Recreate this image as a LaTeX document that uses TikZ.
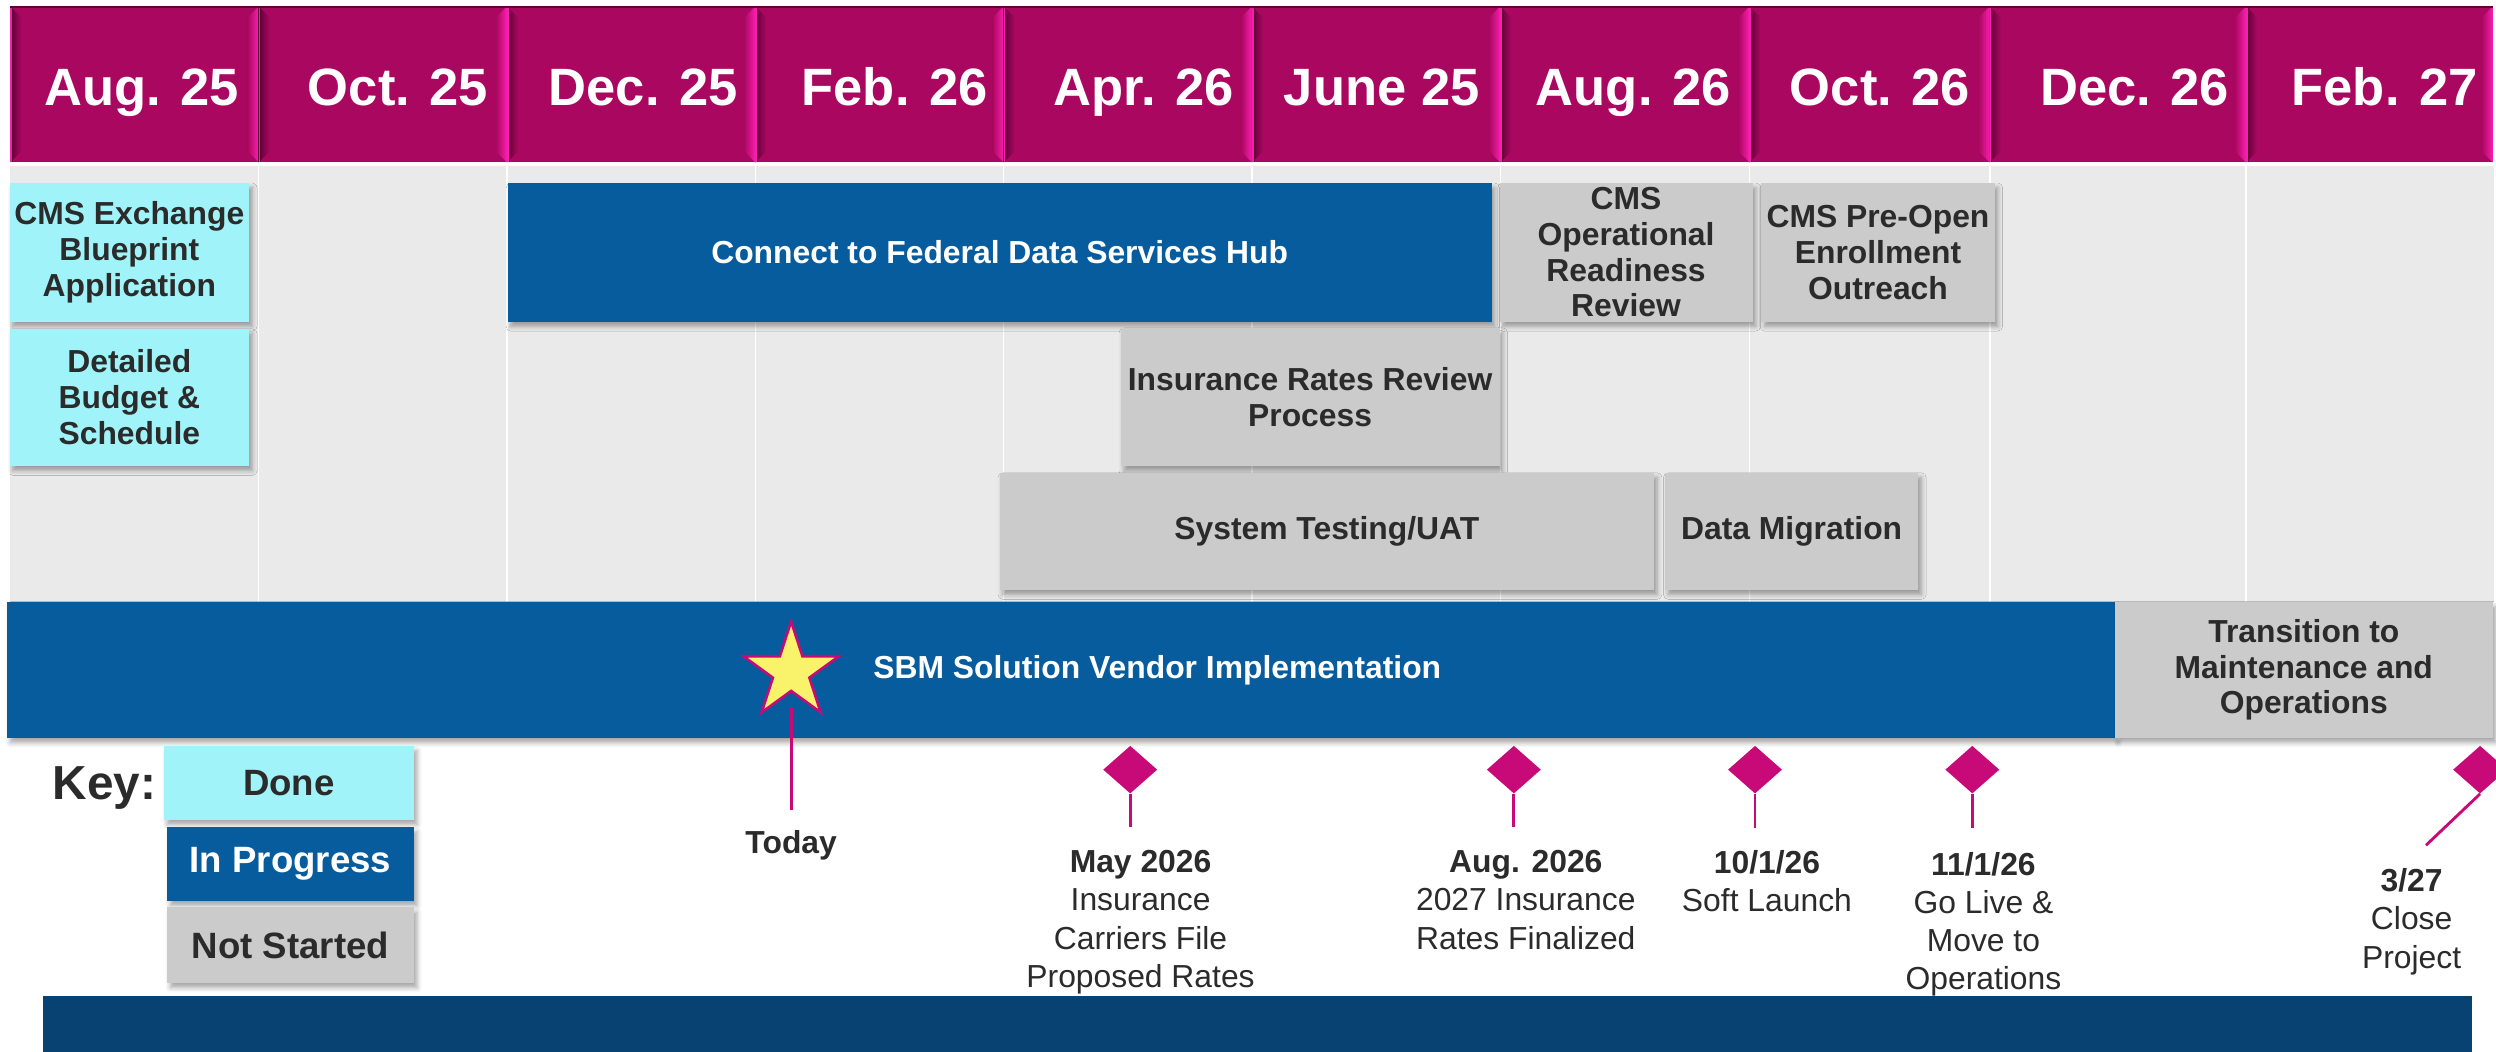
\documentclass[tikz,border=0pt]{standalone}
\usepackage{fontspec}
\setmainfont{Liberation Sans}
\usepackage{tikz}
\usetikzlibrary{
    positioning,
    shapes.geometric,
    shadows.blur
}
\definecolor{headMagenta}{RGB}{170, 8, 96}
\definecolor{headPink}{RGB}{250, 30, 175}
\definecolor{headDark}{RGB}{95, 0, 55}
\definecolor{gridGray}{RGB}{234, 234, 234}
\definecolor{doneCyan}{RGB}{160, 243, 248}
\definecolor{progBlue}{RGB}{7, 92, 158}
\definecolor{idleGray}{RGB}{203, 203, 203}
\definecolor{darkText}{RGB}{43, 43, 43}
\definecolor{mileMagenta}{RGB}{200, 10, 120}
\definecolor{starYellow}{RGB}{248, 243, 106}
\definecolor{footBlue}{RGB}{8, 66, 114}

\begin{document}
\begin{tikzpicture}[x=1pt, y=-1pt,
        task/.style={rectangle, inner sep=0pt, align=center,
            font=\bfseries\fontsize{20}{22.5}\selectfont,
            blur shadow={shadow xshift=2pt, shadow yshift=-3pt, shadow blur radius=3pt, shadow opacity=35}},
        taskDone/.style={task, fill=doneCyan, text=darkText},
        taskProg/.style={task, fill=progBlue, text=white},
        taskIdle/.style={task, fill=idleGray, text=darkText},
        keyBox/.style={task, font=\bfseries\fontsize{23}{26}\selectfont},
        headText/.style={anchor=base, inner sep=0pt, text=white, font=\bfseries\fontsize{33}{36}\selectfont},
        milestone/.style={diamond, minimum width=34pt, minimum height=30pt, inner sep=0pt, fill=mileMagenta},
        mline/.style={mileMagenta, line width=1.8pt},
        mtext/.style={anchor=north, inner sep=0pt, align=center, text=darkText, font=\fontsize{20}{24}\selectfont}]
        \useasboundingbox (0,0) rectangle (1568,660.3);

        % month header
        \foreach \a/\b/\c/\lab [count=\i] in {6.5/162.5/89/Aug. 25, 162.5/318.5/250/Oct. 25, 318.5/474.5/404/Dec. 25, 474.5/630.5/562/Feb. 26, 630.5/786.5/718.5/Apr. 26, 786.5/942.5/868/June 25, 942.5/1099/1026/Aug. 26, 1099/1250/1181/Oct. 26, 1250/1411/1341/Dec. 26, 1411/1566/1498/Feb. 27}{
            \fill[headMagenta] (\a,4) rectangle (\b,102);
            \shade[left color=headDark, right color=headMagenta] (\a,4) -- (\a+7,11) -- (\a+7,95) -- (\a,102) -- cycle;
            \shade[left color=headMagenta, right color=headPink] (\b,4) -- (\b-7,11) -- (\b-7,95) -- (\b,102) -- cycle;
            \draw[headPink, line width=1pt] (\a+0.5,4) -- (\a+0.5,102);
            \draw[headDark, line width=0.5pt] (\a+1.3,4) -- (\a+1.3,102);
            \node[headText] (head\i) at (\c,66) {\lab};
        }
        \draw[headDark, line width=0.8pt] (6.5,4.4) -- (1566,4.4);

        % grid area
        \fill[gridGray] (6,104) rectangle (1567,378);
        \foreach \x in {162.5, 318.5, 474.5, 630.5, 786.5, 942.5, 1099, 1250, 1411}
            \draw[white, line width=0.9pt] (\x,104) -- (\x,378);

        % tasks
        \node[taskDone, minimum width=150.5pt, minimum height=87pt] (blueprint) at (81.25,158.5) {CMS Exchange\\Blueprint\\Application};
        \node[taskDone, minimum width=150.5pt, minimum height=86pt] (budget) at (81.25,249.6) {Detailed\\Budget \&\\Schedule};
        \node[taskProg, minimum width=618pt, minimum height=87pt] (hub) at (628,158.5) {Connect to Federal Data Services Hub};
        \node[taskIdle, minimum width=159pt, minimum height=87pt] (readiness) at (1021.5,158.5) {CMS\\Operational\\Readiness\\Review};
        \node[taskIdle, minimum width=146.5pt, minimum height=87pt] (outreach) at (1179.75,158.5) {CMS Pre-Open\\Enrollment\\Outreach};
        \node[taskIdle, minimum width=238pt, minimum height=87pt] (rates) at (823,249.5) {Insurance Rates Review\\Process};
        \node[taskIdle, minimum width=411pt, minimum height=73.5pt] (testing) at (833.5,333.75) {System Testing/UAT};
        \node[taskIdle, minimum width=159pt, minimum height=73.5pt] (migration) at (1125.5,333.75) {Data Migration};
        \node[taskProg, minimum width=1324pt, minimum height=85.5pt] (sbm) at (666.5,420.75) {};
        \node[taskIdle, minimum width=237.5pt, minimum height=85.5pt] (transition) at (1447.25,420.75) {Transition to\\Maintenance and\\Operations};
        \node[inner sep=0pt, text=white, font=\bfseries\fontsize{20}{22.5}\selectfont] (sbmtext) at (727,421) {SBM Solution Vendor Implementation};

        % key
        \node[anchor=base west, inner sep=0pt, text=darkText, font=\bfseries\fontsize{30}{33}\selectfont] (key) at (33,502.5) {Key:};
        \node[keyBox, fill=doneCyan, text=darkText, minimum width=157pt, minimum height=46.4pt] (keydone) at (181.5,491.8) {Done};
        \node[keyBox, fill=progBlue, text=white, minimum width=155pt, minimum height=46.5pt] (keyprog) at (182.5,542.75) {In Progress};
        \node[keyBox, fill=idleGray, text=darkText, minimum width=155pt, minimum height=47.5pt] (keyidle) at (182.5,593.75) {Not Started};

        % today
        \coordinate (todayend) at (497,509);
        \node[star, star points=5, star point ratio=2.618, minimum size=63pt, inner sep=0pt,
            fill=starYellow, draw=mileMagenta, line width=1.6pt] (today) at (497,422) {};
        \draw[mline, shorten <=10pt] (today.south) -- (todayend);
        \node[inner sep=0pt, anchor=base, text=darkText, font=\bfseries\fontsize{20}{24}\selectfont] (todaytext) at (497,536) {Today};

        % milestones
        \node[milestone] (may) at (710,483.5) {};
        \node[milestone] (aug) at (951,483.5) {};
        \node[milestone] (soft) at (1102.5,483.5) {};
        \node[milestone] (golive) at (1239,483.5) {};
        \node[milestone] (close) at (1558,483.5) {};
        \coordinate (mayend) at (710,519.5);
        \coordinate (augend) at (951,519.5);
        \coordinate (softend) at (1102.5,520);
        \coordinate (goliveend) at (1239,520);
        \coordinate (closeend) at (1524,531);
        \draw[mline] (may.south) -- (mayend);
        \draw[mline] (aug.south) -- (augend);
        \draw[mline] (soft.south) -- (softend);
        \draw[mline] (golive.south) -- (goliveend);
        \draw[mline] (close.south) -- (closeend);
        \node[mtext] (maytext) at (716.5,534) {\textbf{May 2026}\\Insurance\\Carriers File\\Proposed Rates};
        \node[mtext] (augtext) at (958.5,534) {\textbf{Aug. 2026}\\2027 Insurance\\Rates Finalized};
        \node[mtext] (softtext) at (1110,534) {\textbf{10/1/26}\\Soft Launch};
        \node[mtext] (golivetext) at (1246,535) {\textbf{11/1/26}\\Go Live \&\\Move to\\Operations};
        \node[mtext] (closetext) at (1515,545.5) {\textbf{3/27}\\Close\\Project};

        % footer bar
        \fill[footBlue] (27,626) rectangle (1553,664);
    \end{tikzpicture}
\end{document}
